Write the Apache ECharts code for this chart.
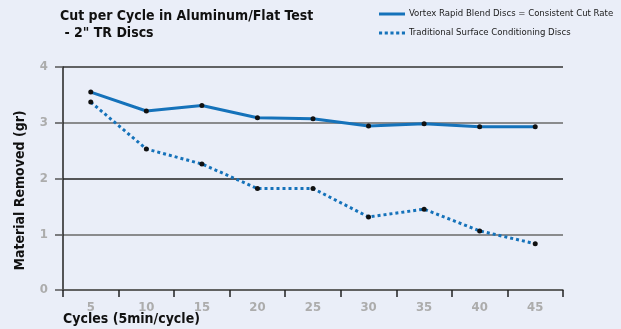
<!DOCTYPE html>
<html>
<head>
<meta charset="utf-8">
<script src="https://cdn.jsdelivr.net/npm/echarts@6/dist/echarts.min.js"></script>
<style>
  html, body { margin: 0; padding: 0; background: #eaeef8; }
  #chart { width: 621px; height: 329px; }
</style>
</head>
<body>
<div id="chart"></div>
<script>
// Cycle numbers along the x axis
const cycles = ['5', '10', '15', '20', '25', '30', '35', '40', '45'];
// Material removed per cycle (grams)
const vortexSeries = [3.55, 3.21, 3.31, 3.09, 3.07, 2.94, 2.98, 2.93, 2.93];
const traditionalSeries = [3.37, 2.53, 2.26, 1.82, 1.82, 1.31, 1.45, 1.06, 0.83];
const seriesNames = [
  'Vortex Rapid Blend Discs = Consistent Cut Rate',
  'Traditional Surface Conditioning Discs'
];

const FONT = '"DejaVu Sans Condensed", "Liberation Sans", Arial, sans-serif';
const BLUE = '#1572ba';

const chart = echarts.init(document.getElementById('chart'));
chart.setOption({
  backgroundColor: '#eaeef8',
  animation: false,
  title: [
    {
      text: 'Cut per Cycle in Aluminum/Flat Test\n - 2" TR Discs',
      left: 55, top: 3,
      textStyle: { fontFamily: FONT, fontWeight: 'bold', fontSize: 14, color: '#111', lineHeight: 17 }
    },
    {
      text: 'Cycles (5min/cycle)',
      left: 58, top: 307,
      textStyle: { fontFamily: FONT, fontWeight: 'bold', fontSize: 14, color: '#111' }
    }
  ],
  legend: {
    orient: 'vertical',
    left: 379, top: 9,
    padding: 0,
    itemWidth: 26, itemHeight: 10, itemGap: 9,
    textStyle: { fontFamily: FONT, fontSize: 9.5, color: '#1a1a1a', padding: [0, 0, 0, -1] },
    data: [
      { name: seriesNames[0], icon: 'path://M0,0 L26,0 L26,3 L0,3 Z', itemStyle: { color: BLUE } },
      { name: seriesNames[1], icon: 'path://M0,0 L3,0 L3,3 L0,3 Z M5.5,0 L8.5,0 L8.5,3 L5.5,3 Z M11,0 L14,0 L14,3 L11,3 Z M16.5,0 L19.5,0 L19.5,3 L16.5,3 Z M22,0 L25,0 L25,3 L22,3 Z', itemStyle: { color: BLUE } }
    ]
  },
  grid: { left: 63, right: 58, top: 67, bottom: 39 },
  xAxis: {
    type: 'category',
    data: cycles,
    boundaryGap: true,
    axisLine: { lineStyle: { color: '#555', width: 1.5 } },
    axisTick: { show: true, length: 7, lineStyle: { color: '#222', width: 1.5 } },
    axisLabel: { margin: 11, fontFamily: FONT, fontWeight: 'bold', fontSize: 13, color: '#acacac' }
  },
  yAxis: {
    type: 'value',
    min: 0, max: 4, interval: 1,
    name: 'Material Removed (gr)',
    nameLocation: 'middle',
    nameGap: 36,
    nameTextStyle: { fontFamily: FONT, fontWeight: 'bold', fontSize: 14, color: '#111', padding: [0, 24, 0, 0] },
    axisLine: { show: true, lineStyle: { color: '#222', width: 1.5 } },
    axisTick: { show: true, length: 8, lineStyle: { color: '#555', width: 1.5 } },
    axisLabel: { margin: 15, fontFamily: FONT, fontWeight: 'bold', fontSize: 13, color: '#acacac' },
    splitLine: {
      show: true,
      lineStyle: { color: ['#666', '#6a6a6a', '#222', '#6a6a6a', '#333'], width: 1.5 }
    }
  },
  series: [
    {
      name: seriesNames[0],
      type: 'line',
      data: vortexSeries,
      symbol: 'circle', symbolSize: 5,
      itemStyle: { color: '#111' },
      lineStyle: { color: BLUE, width: 3 },
      z: 3
    },
    {
      name: seriesNames[1],
      type: 'line',
      data: traditionalSeries,
      symbol: 'circle', symbolSize: 5,
      itemStyle: { color: '#111' },
      lineStyle: { color: BLUE, width: 3, type: [3, 3] },
      z: 3
    }
  ]
});
</script>
</body>
</html>
